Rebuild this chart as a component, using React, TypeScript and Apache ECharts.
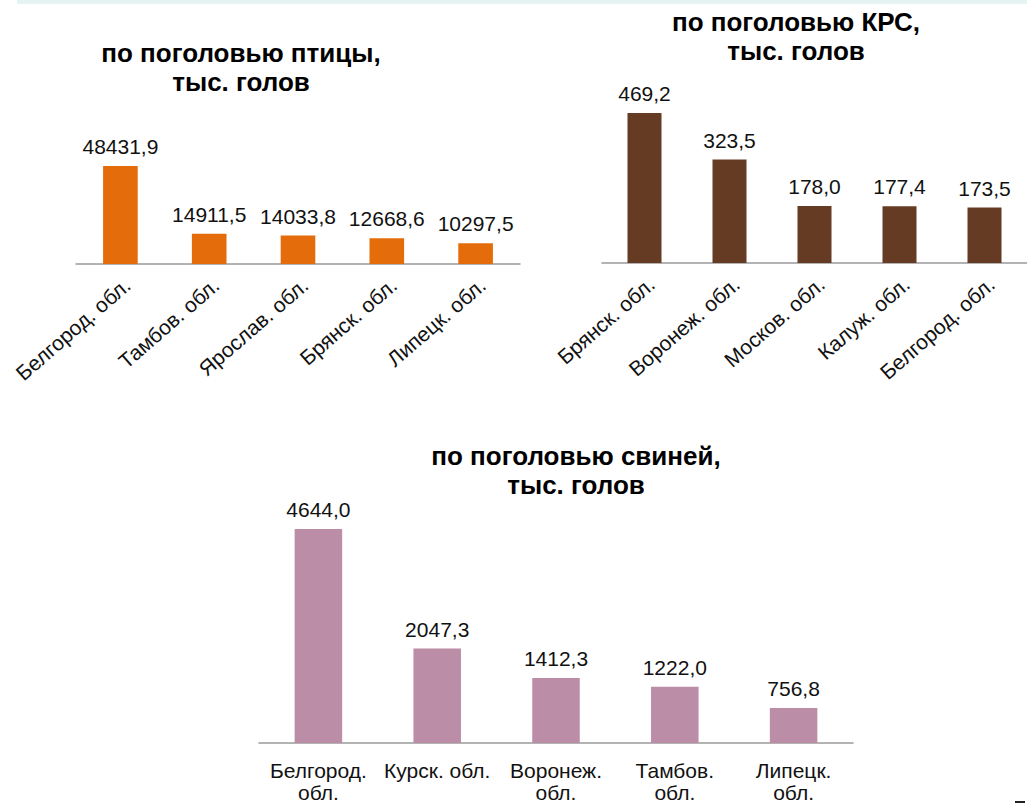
import React, { useEffect, useRef } from "react";
import * as echarts from "echarts";

const poultryCategories = ["Белгород. обл.", "Тамбов. обл.", "Ярослав. обл.", "Брянск. обл.", "Липецк. обл."];
const poultryValues = [48431.9, 14911.5, 14033.8, 12668.6, 10297.5];

const cattleCategories = ["Брянск. обл.", "Воронеж. обл.", "Москов. обл.", "Калуж. обл.", "Белгород. обл."];
const cattleValues = [469.2, 323.5, 178.0, 177.4, 173.5];

const pigCategories = ["Белгород.\nобл.", "Курск. обл.", "Воронеж.\nобл.", "Тамбов.\nобл.", "Липецк.\nобл."];
const pigValues = [4644.0, 2047.3, 1412.3, 1222.0, 756.8];

const titles = [
  "по поголовью птицы,\nтыс. голов",
  "по поголовью КРС,\nтыс. голов",
  "по поголовью свиней,\nтыс. голов",
];

const FONT = "'Liberation Sans', Arial, sans-serif";
const fmt = (v: number) => v.toFixed(1).replace(".", ",");

export default function App() {
  const ref = useRef<HTMLDivElement>(null);
  useEffect(() => {
    document.body.style.margin = "0";
    const chart = echarts.init(ref.current!, null, { renderer: "svg" });
    const axisLine = { show: true, lineStyle: { color: "#9a9a9a", width: 1.5 } };
    const labelStyle = {
      show: true,
      position: "top" as const,
      distance: 9,
      fontSize: 21,
      fontFamily: FONT,
      color: "#111",
      formatter: (p: any) => fmt(p.value),
    };
    const rotLabel = {
      interval: 0,
      rotate: 41,
      margin: 10,
      verticalAlign: "top",
      fontSize: 21,
      fontFamily: FONT,
      color: "#111",
    };
    const titleText = (x: number, y: number, text: string) => ({
      type: "text",
      x,
      y,
      style: {
        text,
        align: "center",
        verticalAlign: "top",
        fontSize: 26,
        fontWeight: "bold",
        fontFamily: FONT,
        lineHeight: 29,
        fill: "#000",
      },
    });
    chart.setOption({
      animation: false,
      backgroundColor: "#fff",
      grid: [
        { left: 76, top: 140, width: 444, height: 124 },
        { left: 602, top: 100, width: 432, height: 163 },
        { left: 259, top: 520, width: 594, height: 225.5 },
      ],
      xAxis: [
        {
          type: "category", gridIndex: 0, data: poultryCategories,
          axisLine, axisTick: { show: false }, axisLabel: rotLabel,
        },
        {
          type: "category", gridIndex: 1, data: cattleCategories,
          axisLine, axisTick: { show: false }, axisLabel: rotLabel,
        },
        {
          type: "category", gridIndex: 2, data: pigCategories,
          axisLine, axisTick: { show: false },
          axisLabel: { interval: 0, margin: 16, fontSize: 21, lineHeight: 22, fontFamily: FONT, color: "#111" },
        },
      ],
      yAxis: [
        { type: "value", gridIndex: 0, min: 0, max: 61300, show: false, splitLine: { show: false } },
        { type: "value", gridIndex: 1, min: 0, max: 510, show: false, splitLine: { show: false } },
        { type: "value", gridIndex: 2, min: 0, max: 4837, show: false, splitLine: { show: false } },
      ],
      series: [
        {
          type: "bar", xAxisIndex: 0, yAxisIndex: 0, data: poultryValues,
          barWidth: "39%", itemStyle: { color: "#E46C0A" }, label: labelStyle,
        },
        {
          type: "bar", xAxisIndex: 1, yAxisIndex: 1, data: cattleValues,
          barWidth: "40%", itemStyle: { color: "#663B24" }, label: labelStyle,
        },
        {
          type: "bar", xAxisIndex: 2, yAxisIndex: 2, data: pigValues,
          barWidth: "40%", itemStyle: { color: "#BB8DA6" }, label: labelStyle,
        },
      ],
      graphic: [
        { type: "rect", shape: { x: 17, y: 0, width: 1010, height: 4 }, style: { fill: "#E6F3F3" } },
        titleText(241, 38, titles[0]),
        titleText(796, 7, titles[1]),
        titleText(576, 441, titles[2]),
        { type: "rect", shape: { x: 1015, y: 801, width: 10, height: 2 }, style: { fill: "#222" } },
      ],
    });
    return () => chart.dispose();
  }, []);
  return (
    <div
      ref={ref}
      style={{ position: "absolute", left: 0, top: 0, width: 1027, height: 803 }}
    />
  );
}
